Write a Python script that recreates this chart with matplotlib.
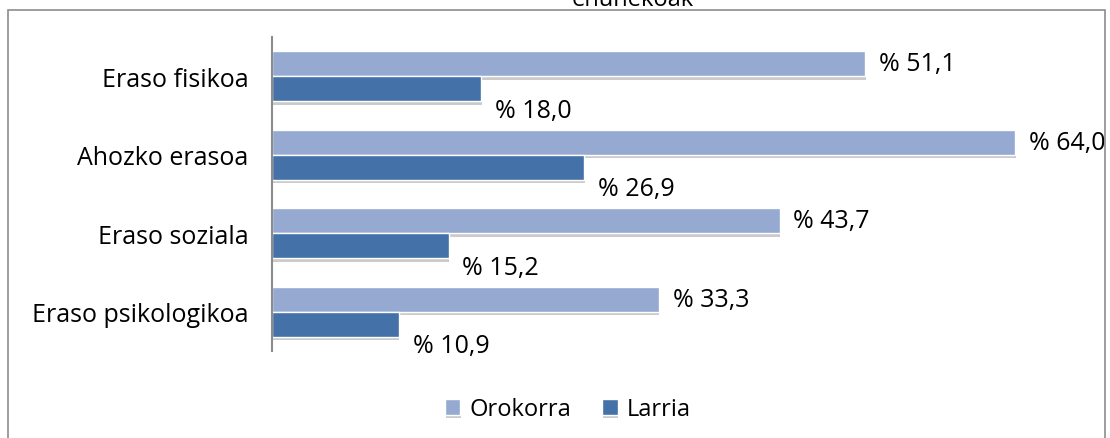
import numpy as np
import matplotlib.pyplot as plt
import matplotlib.patheffects as pe
from matplotlib.patches import Rectangle

plt.rcParams['font.family'] = ['Open Sans', 'DejaVu Sans']

categories = ['Eraso fisikoa', 'Ahozko erasoa', 'Eraso soziala', 'Eraso psikologikoa']
orokorra = [51.1, 64.0, 43.7, 33.3]
larria = [18.0, 26.9, 15.2, 10.9]
series_names = ['Orokorra', 'Larria']
colors = ['#95A9D1', '#4471A7']

fig = plt.figure(figsize=(11.10, 4.39), dpi=100)
# outer frame of the chart
fig.patches.append(Rectangle((8 / 1110, -0.05), 1097 / 1110, 1.05 - 11 / 439,
                             transform=fig.transFigure, fill=False,
                             edgecolor='#8c8c8c', linewidth=1.2))
fig.text(633 / 1110, 1 - 6 / 439, 'ehunekoak', ha='center', va='baseline', fontsize=17)

ax = fig.add_axes([272 / 1110, 1 - 352 / 439, (1085 - 272) / 1110, (352 - 38) / 439])
y = np.arange(len(categories))
h = 0.32
shadow = [pe.SimplePatchShadow(offset=(0.5, -2.5), shadow_rgbFace='#999999', alpha=0.5), pe.Normal()]

b1 = ax.barh(y - h / 2, orokorra, height=h, color=colors[0], edgecolor='white',
             linewidth=1, label=series_names[0])
b2 = ax.barh(y + h / 2, larria, height=h, color=colors[1], edgecolor='white',
             linewidth=1, label=series_names[1])
for b in list(b1) + list(b2):
    b.set_path_effects(shadow)

for i in range(len(categories)):
    ax.text(orokorra[i] + 1.2, y[i] - h / 2, '% ' + f'{orokorra[i]:.1f}'.replace('.', ','),
            va='center', ha='left', fontsize=18)
    ax.text(larria[i] + 1.2, y[i] + h / 2 + 0.27, '% ' + f'{larria[i]:.1f}'.replace('.', ','),
            va='center', ha='left', fontsize=18)

ax.set_xlim(0, 70)
ax.set_ylim(len(categories) - 0.5, -0.5)
ax.set_yticks(y)
ax.set_yticklabels(categories, fontsize=18)
ax.tick_params(axis='y', length=0, pad=17)
ax.set_xticks([])
for s in ['top', 'right', 'bottom']:
    ax.spines[s].set_visible(False)
ax.spines['left'].set_color('#8c8c8c')
ax.spines['left'].set_linewidth(1.5)

fig.legend(handles=[b1, b2], labels=series_names, loc='center',
           bbox_to_anchor=(568 / 1110, 1 - 410 / 439), ncol=2, frameon=False,
           fontsize=17, handlelength=0.65, handleheight=0.65, handletextpad=0.4,
           columnspacing=1.3)

fig.savefig('out.png', dpi=100)
